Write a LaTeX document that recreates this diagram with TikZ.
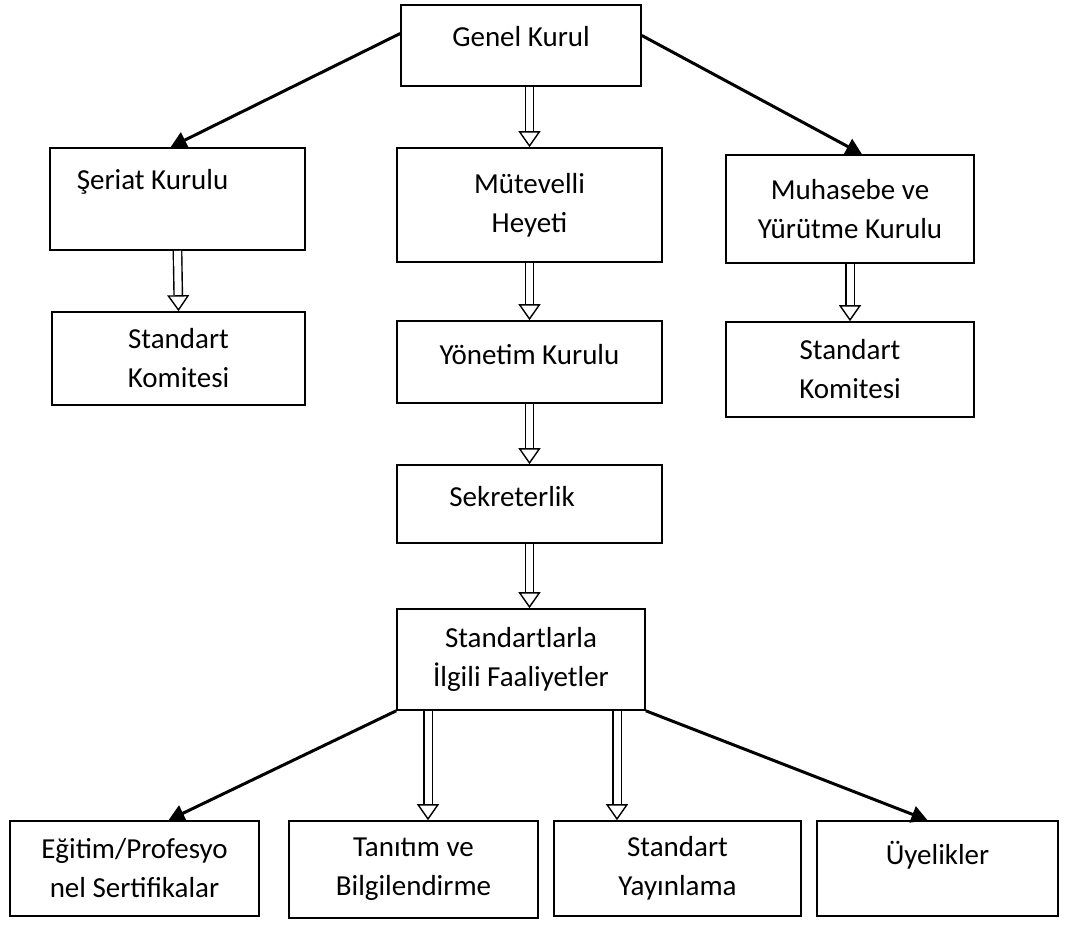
\documentclass[tikz,border=0pt]{standalone}
\usepackage{fontspec}
\setmainfont{Carlito}
\usetikzlibrary{arrows.meta}

\begin{document}
\begin{tikzpicture}[x=1pt, y=-1pt,
  box/.style={draw, line width=1.6pt, align=center, inner sep=0pt, font=\fontsize{29}{39}\selectfont},
  hollowarrow/.style={double, double distance=7pt, line width=1.4pt, -{Triangle[open, length=16pt, width=22pt]}},
  blackarrow/.style={line width=3pt, -{Triangle[length=16pt, width=17pt]}}]
\useasboundingbox (0,0) rectangle (1066,925);
% upper level
\node[box, minimum width=240pt, minimum height=81pt, text height=20pt, text depth=18pt] (genel) at (521,45.5) {Genel Kurul};
\node[box, minimum width=255pt, minimum height=102pt, text height=20pt, text depth=39pt] (seriat) at (177.5,199) {Şeriat Kurulu\hspace*{50pt}};
\node[box, minimum width=265pt, minimum height=114pt] (mutevelli) at (529.5,205) {Mütevelli\\Heyeti};
\node[box, minimum width=248pt, minimum height=108pt] (muhasebe) at (850,209) {Muhasebe ve\\Yürütme Kurulu};
% committees
\node[box, minimum width=253pt, minimum height=93pt] (komiteA) at (178.5,358.5) {Standart\\Komitesi};
\node[box, minimum width=265pt, minimum height=82pt, text height=20pt, text depth=15pt] (yonetim) at (529.5,362) {Yönetim Kurulu};
\node[box, minimum width=248pt, minimum height=95pt] (komiteB) at (850,369.5) {Standart\\Komitesi};
\node[box, minimum width=265pt, minimum height=78pt, text height=20pt, text depth=15pt] (sekreterlik) at (529.5,504) {Sekreterlik\hspace*{35pt}};
\node[box, minimum width=248pt, minimum height=101pt] (faaliyet) at (521,659.5) {Standartlarla\\İlgili Faaliyetler};
% bottom row
\node[box, minimum width=249pt, minimum height=95pt] (egitim) at (134.5,868.5) {Eğitim/Profesyo\\nel Sertifikalar};
\node[box, minimum width=249pt, minimum height=97pt] (tanitim) at (413.5,869.5) {Tanıtım ve\\Bilgilendirme};
\node[box, minimum width=247pt, minimum height=95pt] (yayinlama) at (677.5,868.5) {Standart\\Yayınlama};
\node[box, minimum width=241pt, minimum height=95pt, text height=20pt, text depth=28pt] (uyelikler) at (937.5,868.5) {Üyelikler};

\draw[blackarrow] ([yshift=12pt]genel.west) -- ([xshift=-7pt]seriat.north);
\draw[blackarrow] ([yshift=10pt]genel.east) -- ([xshift=12pt]muhasebe.north);
\draw[hollowarrow] (mutevelli.north |- genel.south) -- (mutevelli.north);
\draw[hollowarrow] (seriat.south) -- (komiteA.north);
\draw[hollowarrow] (muhasebe.south) -- (komiteB.north);
\draw[hollowarrow] (mutevelli.south) -- (yonetim.north);
\draw[hollowarrow] (yonetim.south) -- (sekreterlik.north);
\draw[hollowarrow] (sekreterlik.south) -- (sekreterlik.south |- faaliyet.north);
\draw[blackarrow] (faaliyet.south west) -- ([xshift=34pt]egitim.north);
\draw[hollowarrow] ([xshift=-93pt]faaliyet.south) -- ([xshift=-93pt]faaliyet.south |- tanitim.north);
\draw[hollowarrow] ([xshift=96pt]faaliyet.south) -- ([xshift=96pt]faaliyet.south |- yayinlama.north);
\draw[blackarrow] (faaliyet.south east) -- ([xshift=-10pt]uyelikler.north);
\end{tikzpicture}
\end{document}
